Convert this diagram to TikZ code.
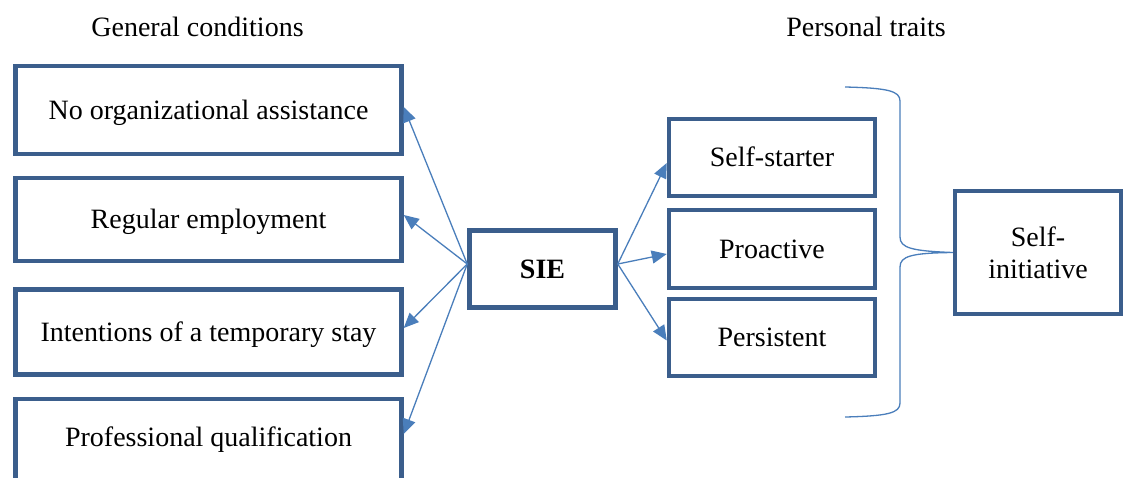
\documentclass[tikz,border=0pt]{standalone}
\usepackage{fontspec}
\setmainfont{Liberation Serif}
\usetikzlibrary{arrows.meta,calc}
\definecolor{boxblue}{HTML}{3B5E8C}
\definecolor{linkblue}{HTML}{4A7EBB}
\tikzset{
  box/.style={draw=boxblue, line width=4.5pt, rectangle, inner sep=0pt,
    text height=24.95pt, text depth=6.05pt, align=center},
  link/.style={draw=linkblue, line width=1.3pt, -{Triangle[length=15pt,width=13pt]}},
  title/.style={anchor=base, inner sep=0pt}
}
\begin{document}
\begin{tikzpicture}[x=1pt,y=-1pt,font=\fontsize{28}{32}\selectfont]
\clip (0,0) rectangle (1123,477);
\fill[white] (0,0) rectangle (1123,477);
% titles
\node[title] (t1) at (197.5,36) {General conditions};
\node[title] (t2) at (866,36) {Personal traits};
% left boxes
\node[box, minimum width=386pt, minimum height=88pt] (b1) at (208.5,110) {No organizational assistance};
\node[box, minimum width=386pt, minimum height=83pt] (b2) at (208.5,219.5) {Regular employment};
\node[box, minimum width=386pt, minimum height=85pt] (b3) at (208.5,332) {Intentions of a temporary stay};
\node[box, minimum width=386pt, minimum height=84pt, text depth=13.5pt] (b4) at (208.5,441) {Professional qualification};
% SIE
\node[box, minimum width=146pt, minimum height=77pt, font=\fontsize{28}{32}\selectfont\bfseries] (sie) at (542.5,269) {SIE};
% traits
\node[box, minimum width=206pt, minimum height=77pt] (ss) at (772,157.5) {Self-starter};
\node[box, minimum width=206pt, minimum height=78pt] (pa) at (772,249) {Proactive};
\node[box, minimum width=206pt, minimum height=77pt] (ps) at (772,337.5) {Persistent};
% self-initiative
\node[draw=boxblue, line width=4.5pt, rectangle, inner sep=0pt, align=center,
  minimum width=166pt, minimum height=123pt] (si) at (1038,252.5) {Self-\\initiative};
% connectors
\coordinate (sieL) at ($(sie.west)+(0,-5)$);
\coordinate (sieR) at ($(sie.east)+(0,-5)$);
\draw[link] (sieL) -- ($(b1.east)+(0,-3)$);
\draw[link] (sieL) -- ($(b2.east)+(0,-4.5)$);
\draw[link] (sieL) -- ($(b3.east)+(0,-4)$);
\draw[link] (sieL) -- ($(b4.east)+(0,-7)$);
\draw[link] (sieR) -- ($(ss.west)+(0,5.5)$);
\draw[link] (sieR) -- ($(pa.west)+(0,5)$);
\draw[link] (sieR) -- ($(ps.west)+(0,3)$);
% brace
\draw[linkblue, line width=1.3pt]
  (845,87) .. controls (888,88) and (900,91) .. (900,101)
  -- (900,237) .. controls (900,248) and (912,251) .. (si.west)
  .. controls (912,253) and (900,256) .. (900,267)
  -- (900,403) .. controls (900,413) and (888,416) .. (845,417);
\end{tikzpicture}
\end{document}
